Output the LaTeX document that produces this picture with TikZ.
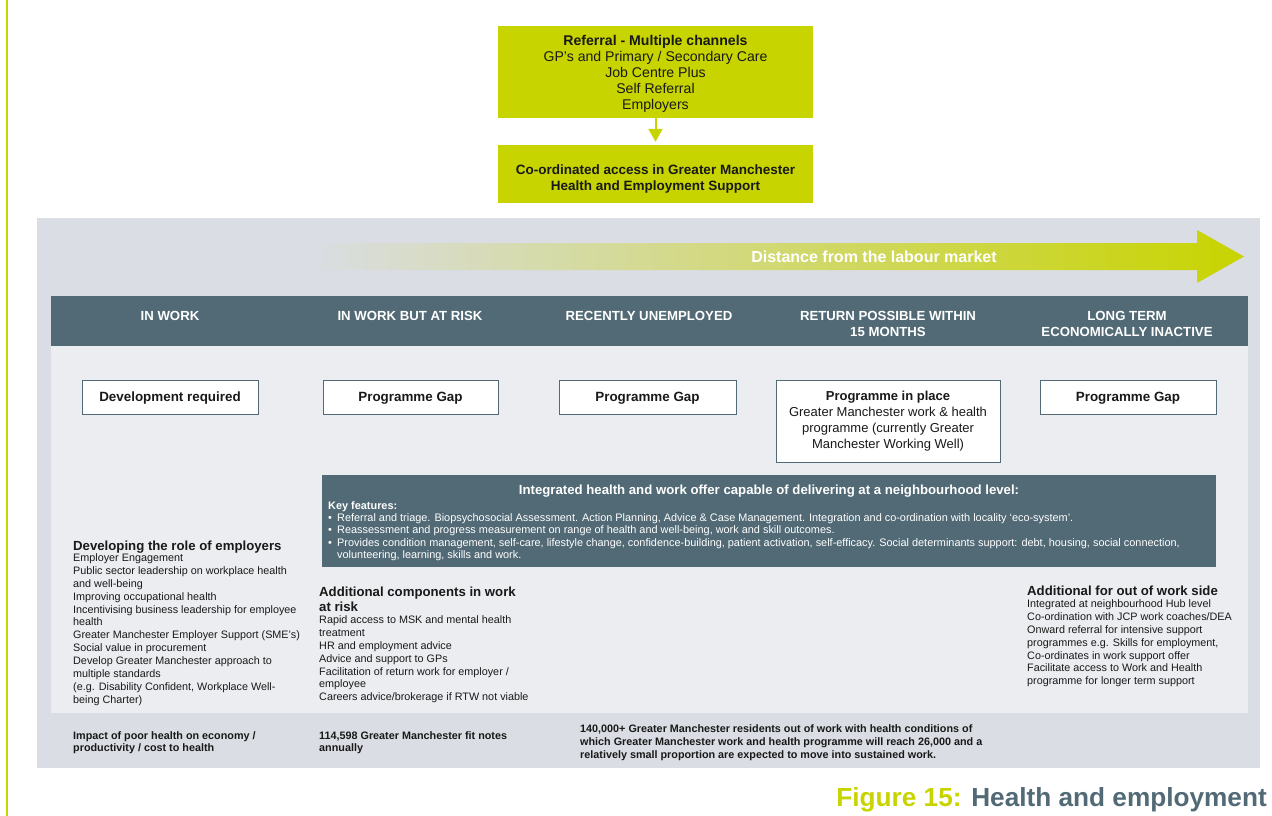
\documentclass[tikz,border=0pt]{standalone}
\usepackage{fontspec}
\setmainfont{Liberation Sans}
\usetikzlibrary{arrows.meta,positioning}
\definecolor{gmlime}{RGB}{200,212,0}
\definecolor{slate}{RGB}{81,106,118}
\definecolor{panel}{RGB}{218,221,227}
\definecolor{inner}{RGB}{236,237,240}
\definecolor{ink}{RGB}{25,25,25}
\newcommand{\fs}[2]{\fontsize{#1}{#2}\selectfont}
\newcommand{\keyitem}[1]{\makebox[9pt][l]{\textbullet}#1}
\newcommand{\keymore}[1]{\makebox[9pt][l]{}#1}
\tikzset{
  limebox/.style={fill=gmlime, minimum width=315pt, align=center, inner sep=0pt, text=ink},
  stagebox/.style={draw=slate, line width=0.9pt, fill=white, minimum height=34pt, align=center, inner sep=0pt, text=ink, font=\fs{13.4}{16}\bfseries},
  gapbox/.style={stagebox, text height=9.6pt, text depth=0pt},
  stagehead/.style={text=white, align=center, anchor=north, inner sep=0pt, font=\fs{13.2}{16}\bfseries},
  blocktitle/.style={anchor=north west, align=left, inner sep=0pt, text=ink, font=\fs{13.2}{15}\bfseries},
  blocktext/.style={anchor=north west, align=left, inner sep=0pt, text=ink, font=\fs{10.8}{12.9}},
  factnote/.style={anchor=north west, align=left, inner sep=0pt, text=ink, font=\fs{10.8}{12.8}\bfseries},
}
\begin{document}
\begin{tikzpicture}[x=1pt,y=-1pt]
\useasboundingbox (0,0) rectangle (1272,816);
\draw[gmlime, line width=2.5pt] (7,0) -- (7,816);

\node[limebox, minimum height=92pt, font=\fs{14.1}{16}] (referral) at (655.5,72)
  {\rule{0pt}{14.3pt}{\bfseries Referral - Multiple channels}\\GP’s and Primary / Secondary Care\\Job Centre Plus\\Self Referral\\Employers};
\node[limebox, minimum height=58pt, font=\fs{13.5}{16}\bfseries] (access) at (655.5,174)
  {\rule{0pt}{20pt}Co-ordinated access in Greater Manchester\\Health and Employment Support};
\draw[gmlime, line width=2pt, -{Triangle[length=13pt,width=14pt]}, shorten >=3pt] (referral) -- (access);

\fill[panel] (37,218) rectangle (1260,768);
\fill[inner] (51,346) rectangle (1248,713);
\fill[slate] (51,296) rectangle (1248,346);

\shade[left color=panel, middle color=gmlime!45!panel, right color=gmlime]
  (311,243) -- (1197,243) -- (1197,230) -- (1244,256.5) -- (1197,283) -- (1197,270) -- (311,270) -- cycle;
\node[text=white, inner sep=0pt, font=\fs{16}{18}\bfseries] (distance) at (874,256.5) {Distance from the labour market};

\foreach \x/\lbl [count=\i] in {170/IN WORK, 410/IN WORK BUT AT RISK, 649/RECENTLY UNEMPLOYED,
  888/{RETURN POSSIBLE WITHIN\\15 MONTHS}, 1127/{LONG TERM\\ECONOMICALLY INACTIVE}}
  \node[stagehead] (head\i) at (\x,311) {\lbl};

\node[gapbox, minimum width=176pt] (devreq) at (170,397) {Development required};
\node[gapbox, minimum width=175pt] (gapatrisk) at (410.5,397) {Programme Gap};
\node[gapbox, minimum width=177pt] (gapunemp) at (647.5,397) {Programme Gap};
\node[stagebox, minimum width=224pt, minimum height=82pt, font=\fs{13}{16}] (inplace) at (888,421)
  {{\bfseries Programme in place}\\Greater Manchester work \& health\\programme (currently Greater\\Manchester Working Well)};
\node[gapbox, minimum width=176pt] (gapinactive) at (1128,397) {Programme Gap};

\node[fill=slate, minimum width=894pt, minimum height=92pt, inner sep=0pt] (offer) at (769,521) {};
\node[text=white, inner sep=0pt, font=\fs{13.2}{15}\bfseries] (offertitle) at (769,491)
  {Integrated health and work offer capable of delivering at a neighbourhood level:};
\node[anchor=north west, align=left, inner sep=0pt, text=white, font=\fs{10.9}{12.3}] (keyfeatures) at (328,501)
  {{\bfseries Key features:}\\
   \keyitem{Referral and triage. Biopsychosocial Assessment. Action Planning, Advice \& Case Management. Integration and co-ordination with locality ‘eco-system’.}\\
   \keyitem{Reassessment and progress measurement on range of health and well-being, work and skill outcomes.}\\
   \keyitem{Provides condition management, self-care, lifestyle change, confidence-building, patient activation, self-efficacy. Social determinants support: debt, housing, social connection,}\\
   \keymore{volunteering, learning, skills and work.}};

\node[blocktitle] (emptitle) at (73,541) {Developing the role of employers};
\node[blocktext] (emptext) at (73,553.4)
  {Employer Engagement\\Public sector leadership on workplace health\\and well-being\\Improving occupational health\\
   Incentivising business leadership for employee\\health\\Greater Manchester Employer Support (SME’s)\\
   Social value in procurement\\Develop Greater Manchester approach to\\multiple standards\\
   (e.g. Disability Confident, Workplace Well-\\being Charter)};

\node[blocktitle] (risktitle) at (319,587) {Additional components in work\\at risk};
\node[blocktext] (risktext) at (319,615.4)
  {Rapid access to MSK and mental health\\treatment\\HR and employment advice\\Advice and support to GPs\\
   Facilitation of return work for employer /\\employee\\Careers advice/brokerage if RTW not viable};

\node[blocktitle] (outtitle) at (1027,586) {Additional for out of work side};
\node[blocktext] (outtext) at (1027,599.4)
  {Integrated at neighbourhood Hub level\\Co-ordination with JCP work coaches/DEA\\Onward referral for intensive support\\
   programmes e.g. Skills for employment,\\Co-ordinates in work support offer\\Facilitate access to Work and Health\\
   programme for longer term support};

\node[factnote] (costnote) at (73,731) {Impact of poor health on economy /\\productivity / cost to health};
\node[factnote] (fitnote) at (319,731) {114,598 Greater Manchester fit notes\\annually};
\node[factnote, font=\fs{10.8}{13}\bfseries] (residentnote) at (580,724)
  {140,000+ Greater Manchester residents out of work with health conditions of\\
   which Greater Manchester work and health programme will reach 26,000 and a\\
   relatively small proportion are expected to move into sustained work.};

\node[anchor=base east, inner sep=0pt, font=\fs{26.2}{30}\bfseries] (caption) at (1267,806)
  {\textcolor{gmlime}{Figure 15:} \textcolor{slate}{Health and employment}};
\end{tikzpicture}
\end{document}
